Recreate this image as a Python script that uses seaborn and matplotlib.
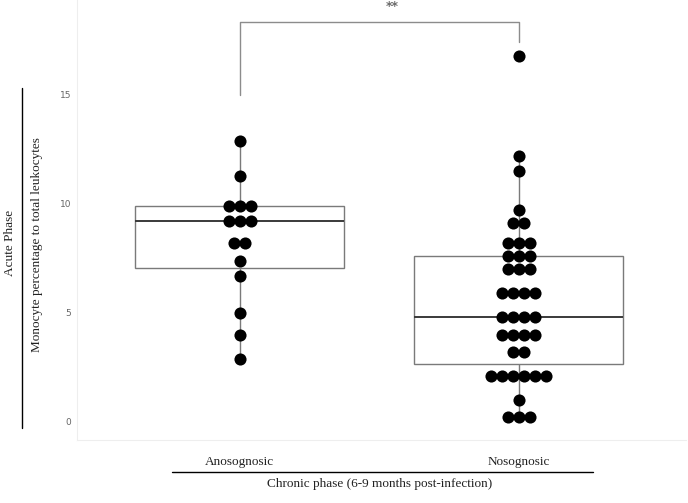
import pandas as pd
import matplotlib.pyplot as plt
import seaborn as sns
from matplotlib.lines import Line2D

# -----------------------------
# Data
# -----------------------------
groups = ["Anosognosic", "Nosognosic"]

anosognosic = [12.9, 11.3, 9.9, 9.9, 9.9, 9.2, 9.2, 9.2, 8.2, 8.2,
               7.4, 6.7, 5.0, 4.0, 2.9]
nosognosic = [16.8, 12.2, 11.5, 9.7, 9.1, 9.1, 8.2, 8.2, 8.2,
              7.6, 7.6, 7.6, 7.0, 7.0, 7.0, 5.9, 5.9, 5.9, 5.9,
              4.8, 4.8, 4.8, 4.8, 4.0, 4.0, 4.0, 4.0, 3.2, 3.2,
              2.1, 2.1, 2.1, 2.1, 2.1, 2.1, 1.0, 0.2, 0.2, 0.2]

y_ticks = [0, 5, 10, 15]
signif_label = "**"
bracket_top = 18.35
bracket_legs = [15.0, 17.45]

# -----------------------------
# Dot-plot style stacking (centred rows)
# -----------------------------
dot_step = 0.0395


def stacked(values, pos):
    vals = pd.Series(values)
    out = []
    for v, grp in vals.groupby(vals, sort=False):
        n = len(grp)
        for i in range(n):
            out.append((pos + (i - (n - 1) / 2) * dot_step, v))
    return pd.DataFrame(out, columns=["x", "y"])


sets = [anosognosic, nosognosic]

# -----------------------------
# Figure
# -----------------------------
sns.set_style("white")
serif = ["Liberation Serif", "DejaVu Serif"]

fig = plt.figure(figsize=(6.88, 5.03), dpi=100)
ax = fig.add_axes([77 / 688, 1 - 440 / 503, 609 / 688, 440 / 503])

for i, vals in enumerate(sets):
    sns.boxplot(
        x=[i] * len(vals), y=vals, native_scale=True, orient="x",
        width=0.75, color="white", linecolor="#7a7a7a", linewidth=1.0,
        showfliers=False, showcaps=False,
        medianprops=dict(color="#3a3a3a", linewidth=1.4),
        ax=ax,
    )

dots = pd.concat([stacked(v, i) for i, v in enumerate(sets)])
sns.scatterplot(data=dots, x="x", y="y", s=76, color="black",
                linewidth=0, ax=ax, zorder=5)

# significance bracket
ax.plot([0, 0, 1, 1],
        [bracket_legs[0], bracket_top, bracket_top, bracket_legs[1]],
        color="#8c8c8c", linewidth=1.0)
ax.text(0.548, 19.05, signif_label, ha="center", va="center",
        fontsize=9, fontweight="bold", color="#6a6a6a")

ax.set_xlim(-0.584, 1.6)
ax.set_ylim(-0.84, 19.36)
ax.set_xticks([0, 1])
ax.set_xticklabels(groups, fontfamily=serif, fontsize=9.5, color="#222222")
ax.set_yticks(y_ticks)
ax.set_yticklabels([str(t) for t in y_ticks], fontsize=6.5, color="#666666")
ax.tick_params(axis="x", length=2.5, width=0.6, color="#999999", pad=9)
ax.tick_params(axis="y", length=2.5, width=0.6, color="#999999", pad=1.5)
ax.set_xlabel("")
ax.set_ylabel("")
for side in ["top", "right"]:
    ax.spines[side].set_visible(False)
for side in ["left", "bottom"]:
    ax.spines[side].set_color("#eeeeee")
    ax.spines[side].set_linewidth(0.8)

# outer labels
fig.text(37 / 688, 1 - 245 / 503, "Monocyte percentage to total leukocytes",
         rotation=90, ha="center", va="center", fontsize=9.5,
         fontfamily=serif, color="#222222")
fig.text(10 / 688, 1 - 243 / 503, "Acute Phase", rotation=90,
         ha="center", va="center", fontsize=9.5, fontfamily=serif,
         color="#222222")
fig.add_artist(Line2D([22 / 688, 22 / 688], [1 - 88 / 503, 1 - 428 / 503],
                      color="black", linewidth=1.0))
fig.add_artist(Line2D([172 / 688, 593 / 688], [1 - 471.7 / 503, 1 - 471.7 / 503],
                      color="black", linewidth=1.0))
fig.text(380 / 688, 1 - 484.5 / 503, "Chronic phase (6-9 months post-infection)",
         ha="center", va="center", fontsize=9.5, fontfamily=serif,
         color="#222222")

plt.savefig("out.png", dpi=100)
plt.close()
